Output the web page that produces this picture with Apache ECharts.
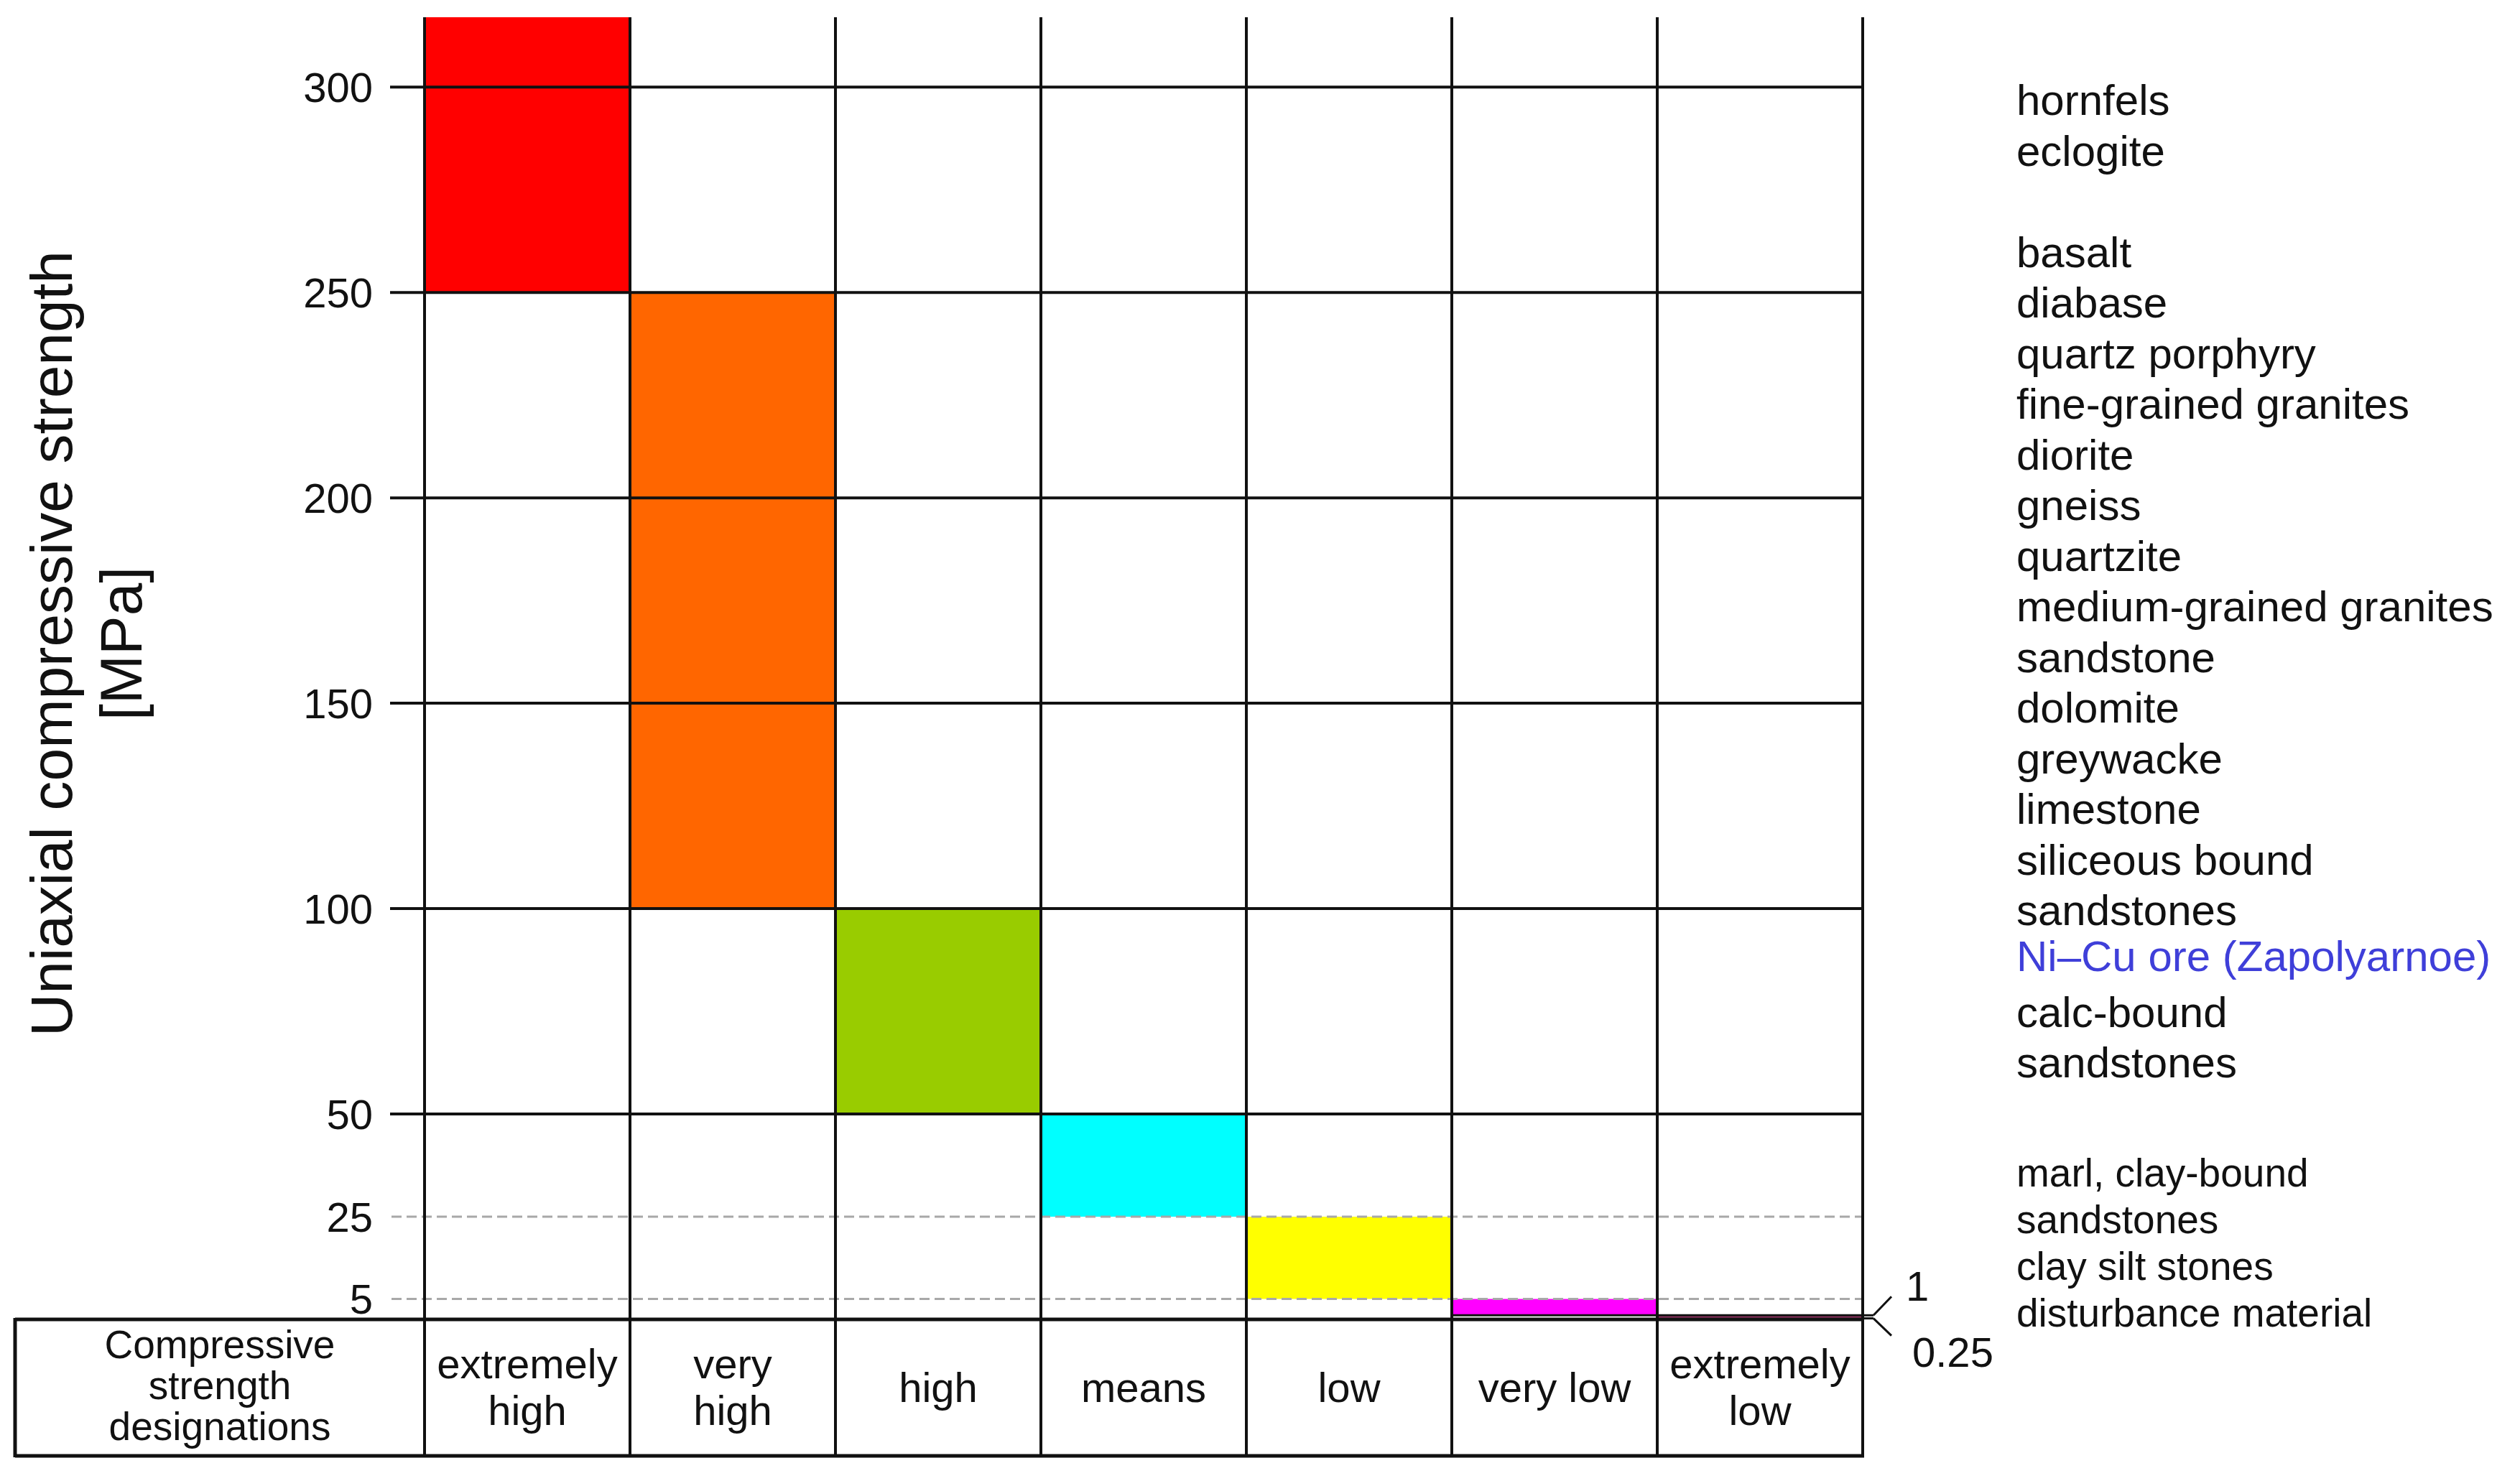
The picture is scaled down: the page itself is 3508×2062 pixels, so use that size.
<!DOCTYPE html>
<html>
<head>
<meta charset="utf-8">
<script src="https://cdn.jsdelivr.net/npm/echarts@6/dist/echarts.min.js"></script>
<style>
html,body{margin:0;padding:0;background:#fff;}
#chart{width:3508px;height:2062px;}
</style>
</head>
<body>
<div id="chart"></div>
<script>
// ---------- data ----------
const categories = ['extremely\nhigh', 'very\nhigh', 'high', 'means', 'low', 'very low', 'extremely\nlow'];
const rangeLow  = [250, 100, 50, 25, 5, 1, 0.25];
const rangeHigh = [317, 250, 100, 50, 25, 5, 1];
const yTicks = [5, 25, 50, 100, 150, 200, 250, 300];
const solidLevels = [50, 100, 150, 200, 250, 300];
const dashedLevels = [5, 25];
const bracketValues = [1, 0.25];
const bracketLabels = ['1', '0.25'];
const rocksGroup1 = ['hornfels', 'eclogite'];
const rocksGroup2 = ['basalt', 'diabase', 'quartz porphyry', 'fine-grained granites', 'diorite', 'gneiss',
  'quartzite', 'medium-grained granites', 'sandstone', 'dolomite', 'greywacke', 'limestone',
  'siliceous bound', 'sandstones'];
const rockHighlight = 'Ni\u2013Cu ore (Zapolyarnoe)';
const rocksGroup3 = ['calc-bound', 'sandstones'];
const rocksGroup4 = ['marl, clay-bound', 'sandstones', 'clay silt stones', 'disturbance material'];
const tableHeader = ['Compressive', 'strength', 'designations'];
const axisTitle = ['Uniaxial compressive strength', '[MPa]'];
const yMax = 317;

// ---------- styles ----------
const barColors = ['#ff0000', '#ff6600', '#99cc00', '#00ffff', '#ffff00', '#ff00ff', '#993366'];
const FONT = '"Liberation Sans", Arial, sans-serif';
const edgeBottomBars = [5];
const edgeTopBars = [6];

const chart = echarts.init(document.getElementById('chart'), null, {renderer: 'svg'});

function hLine(x1, x2, y, style) {
  return {type: 'line', shape: {x1: x1, y1: y, x2: x2, y2: y}, style: style};
}
function vLine(x, y1, y2, style) {
  return {type: 'line', shape: {x1: x, y1: y1, x2: x, y2: y2}, style: style};
}
const blackLine = {stroke: '#111', lineWidth: 4};

function textBlock(lines, x, firstCenter, lh, size, color) {
  return {
    type: 'text', x: x, y: firstCenter - lh / 2, z: 10,
    style: {text: lines.join('\n'), font: size + 'px ' + FONT, fill: color, lineHeight: lh,
      align: 'left', verticalAlign: 'top'}
  };
}

const option = {
  backgroundColor: '#fff',
  animation: false,
  grid: {left: 591, right: 915, top: 24, bottom: 225, containLabel: false},
  xAxis: {
    type: 'category', data: categories, boundaryGap: true,
    axisLine: {show: false}, axisTick: {show: false}, splitLine: {show: false},
    axisLabel: {fontFamily: FONT, fontSize: 58, color: '#111', lineHeight: 65,
      margin: 94, verticalAlign: 'middle', interval: 0}
  },
  yAxis: {
    type: 'value', min: 0, max: yMax,
    axisLine: {show: false}, axisTick: {show: false}, splitLine: {show: false},
    axisLabel: {customValues: yTicks, fontFamily: FONT, fontSize: 58, color: '#111', margin: 72}
  },
  graphic: [
    {type: 'text', x: 120, y: 896, rotation: Math.PI / 2, z: 10,
      style: {text: axisTitle.join('\n'), font: '82px ' + FONT, fill: '#111', lineHeight: 97,
        align: 'center', verticalAlign: 'middle'}},
    textBlock(rocksGroup1, 2807, 139, 71, 60, '#111'),
    textBlock(rocksGroup2, 2807, 351, 70.5, 60, '#111'),
    textBlock([rockHighlight], 2807, 1331, 52, 60, '#3f3fd9'),
    textBlock(rocksGroup3, 2807, 1409, 70, 60, '#111'),
    textBlock(rocksGroup4, 2807, 1633, 65, 55, '#111')
  ],
  series: [
    {
      name: 'ranges', type: 'custom', z: 2,
      data: categories.map(function (c, i) { return [i, rangeLow[i], rangeHigh[i]]; }),
      encode: {x: 0, y: [1, 2]},
      renderItem: function (params, api) {
        const i = api.value(0), lo = api.value(1), hi = api.value(2);
        const pTop = api.coord([i, hi]);
        const pBot = api.coord([i, lo]);
        const w = api.size([1, 0])[0];
        const x0 = pTop[0] - w / 2;
        const children = [{type: 'rect', shape: {x: x0, y: pTop[1], width: w, height: pBot[1] - pTop[1]},
          style: {fill: barColors[i]}}];
        if (edgeBottomBars.indexOf(i) >= 0) children.push(hLine(x0, x0 + w, pBot[1], {stroke: '#111', lineWidth: 3}));
        if (edgeTopBars.indexOf(i) >= 0) children.push(hLine(x0, x0 + w, pTop[1], {stroke: '#111', lineWidth: 3}));
        return {type: 'group', children: children};
      }
    },
    {
      name: 'dashedLevels', type: 'custom', z: 3,
      data: dashedLevels.map(function (v) { return [0, v]; }),
      encode: {x: 0, y: 1},
      renderItem: function (params, api) {
        const cs = params.coordSys;
        const y = api.coord([0, api.value(1)])[1];
        return hLine(cs.x - 46, cs.x + cs.width, y, {stroke: '#a8a8a8', lineWidth: 3, lineDash: [14, 7]});
      }
    },
    {
      name: 'solidLevels', type: 'custom', z: 4,
      data: solidLevels.map(function (v) { return [0, v]; }),
      encode: {x: 0, y: 1},
      renderItem: function (params, api) {
        const cs = params.coordSys;
        const y = api.coord([0, api.value(1)])[1];
        return hLine(cs.x - 48, cs.x + cs.width, y, blackLine);
      }
    },
    {
      name: 'frame', type: 'custom', z: 5,
      data: [[0, 0]],
      encode: {x: 0, y: 1},
      renderItem: function (params, api) {
        const cs = params.coordSys;
        const w = api.size([1, 0])[0];
        const yTop = api.coord([0, yMax])[1];
        const yZero = api.coord([0, 0])[1];
        const tableBottom = yZero + 190;
        const tableLeft = 21;
        const right = cs.x + cs.width;
        const children = [];
        for (let k = 0; k <= categories.length; k++) {
          const x = api.coord([0, 0])[0] - w / 2 + k * w;
          children.push(vLine(x, yTop, tableBottom, blackLine));
        }
        children.push(hLine(tableLeft, right + 2, yZero, {stroke: '#111', lineWidth: 5}));
        children.push(hLine(tableLeft, right + 2, tableBottom, {stroke: '#111', lineWidth: 5}));
        children.push(vLine(tableLeft, yZero - 2, tableBottom + 2, {stroke: '#111', lineWidth: 5}));
        children.push({type: 'text', x: (tableLeft + cs.x) / 2, y: (yZero + tableBottom) / 2 - 3,
          style: {text: tableHeader.join('\n'), font: '55px ' + FONT, fill: '#111', lineHeight: 57,
            align: 'center', verticalAlign: 'middle'}});
        // bracket for the two small limits
        const yA = api.coord([0, bracketValues[0]])[1];
        const yB = api.coord([0, bracketValues[1]])[1];
        const st = {stroke: '#111', lineWidth: 3};
        children.push(hLine(right, right + 15, yA, st));
        children.push(hLine(right, right + 15, yB, st));
        children.push({type: 'line', shape: {x1: right + 15, y1: yA, x2: right + 40, y2: yA - 26}, style: st});
        children.push({type: 'line', shape: {x1: right + 15, y1: yB, x2: right + 40, y2: yB + 24}, style: st});
        children.push({type: 'text', x: right + 60, y: yA - 41,
          style: {text: bracketLabels[0], font: '58px ' + FONT, fill: '#111', align: 'left', verticalAlign: 'middle'}});
        children.push({type: 'text', x: right + 69, y: yB + 47,
          style: {text: bracketLabels[1], font: '58px ' + FONT, fill: '#111', align: 'left', verticalAlign: 'middle'}});
        return {type: 'group', children: children};
      }
    }
  ]
};
chart.setOption(option);
</script>
</body>
</html>
